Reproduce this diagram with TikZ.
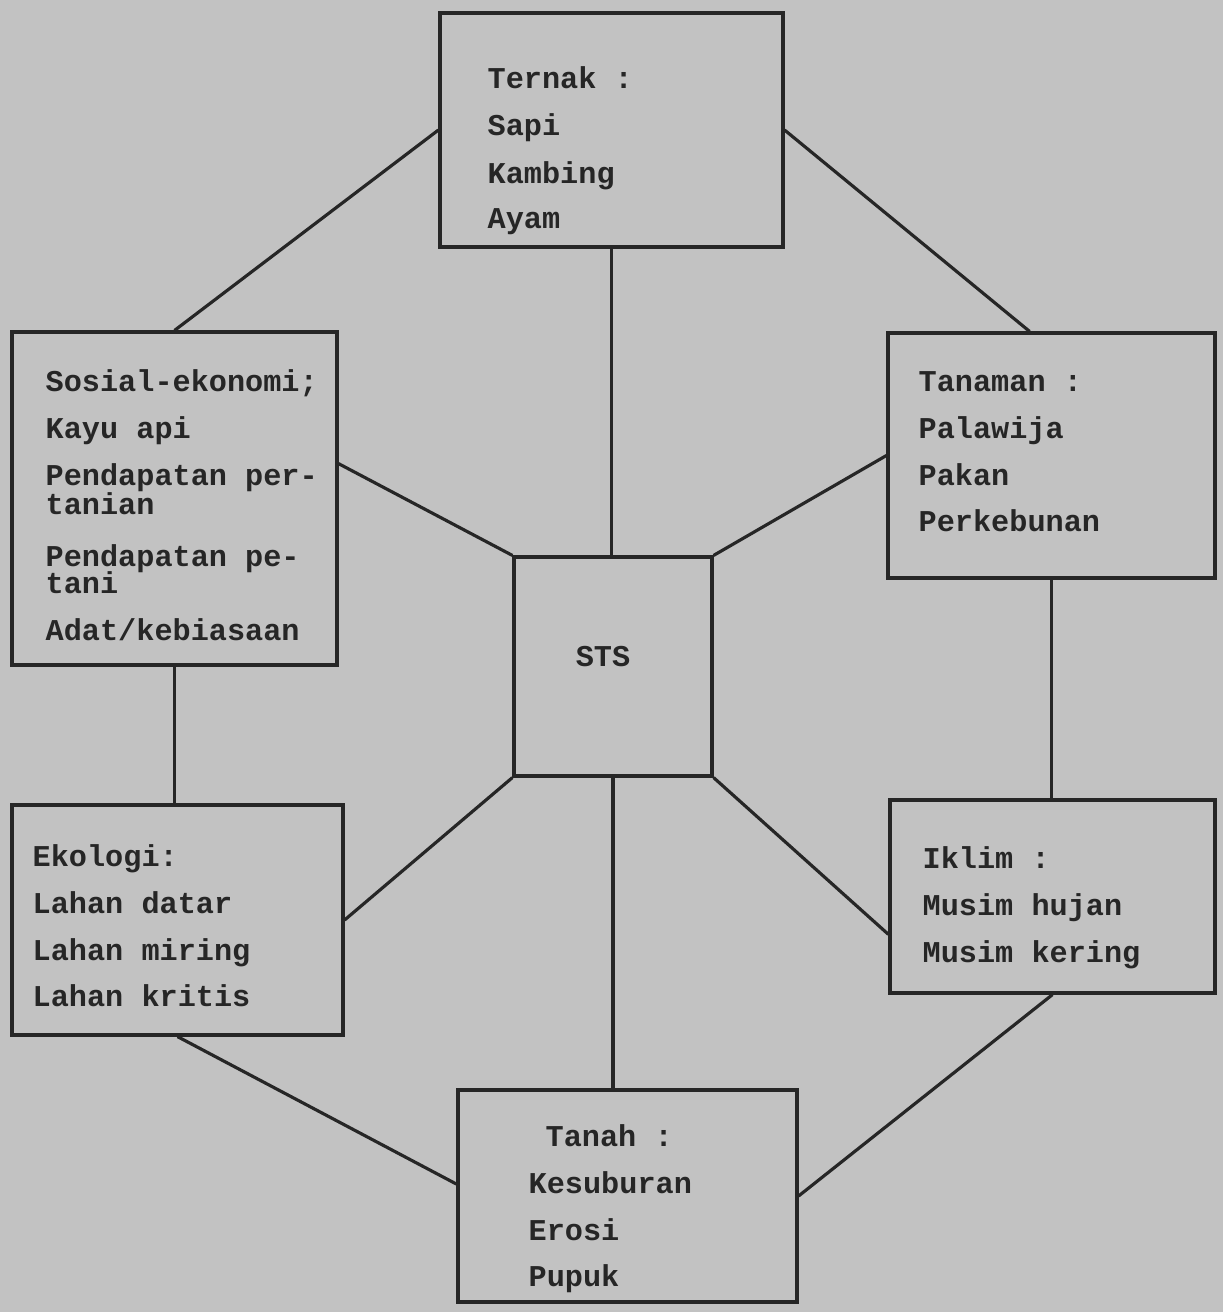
\documentclass[tikz,border=0pt]{standalone}
\usepackage{fontspec}
\setmonofont{Liberation Mono}
\begin{document}
\begin{tikzpicture}[
    kotak/.style={draw=black!85, line width=0.9pt, inner sep=0pt},
    isi/.style={anchor=north west, align=left, inner sep=0pt, text=black!85,
        font=\ttfamily\bfseries\fontsize{8.6}{13.3}\selectfont},
    garis/.style={draw=black!85, line width=0.9pt}]
    % Latar
    \fill[black!24] (0,0) rectangle (12.23,-13.12);
    \useasboundingbox (0,0) rectangle (12.23,-13.12);

    % Kotak Ternak
    \node[kotak, minimum width=3.43cm, minimum height=2.34cm] (ternak) at (6.115,-1.30) {};
    \node[isi] (tternak) at (4.87,-0.66)
        {Ternak :\\ Sapi\\[0.5pt] Kambing\\[-0.5pt] Ayam};

    % Kotak Sosial-ekonomi
    \node[kotak, minimum width=3.25cm, minimum height=3.33cm] (sosial) at (1.745,-4.985) {};
    \node[isi] (tsosial) at (0.45,-3.69)
        {Sosial-ekonomi;\\ Kayu api\\ Pendapatan per-\\[-5pt] tanian\\[1.5pt]
         Pendapatan pe-\\[-5.6pt] tani\\ Adat/kebiasaan};

    % Kotak Tanaman
    \node[kotak, minimum width=3.27cm, minimum height=2.45cm] (tanaman) at (10.515,-4.555) {};
    \node[isi] (ttanaman) at (9.18,-3.71)
        {Tanaman :\\ Palawija\\ Pakan\\ Perkebunan};

    % Kotak STS
    \node[kotak, minimum width=1.98cm, minimum height=2.19cm] (sts) at (6.13,-6.665) {};
    \node[font=\ttfamily\bfseries\fontsize{8.6}{13.3}\selectfont, text=black!85] (tsts) at (6.03,-6.57) {STS};

    % Kotak Ekologi
    \node[kotak, minimum width=3.31cm, minimum height=2.30cm] (ekologi) at (1.775,-9.20) {};
    \node[isi] (tekologi) at (0.32,-8.44)
        {Ekologi:\\ Lahan datar\\ Lahan miring\\ Lahan kritis};

    % Kotak Iklim
    \node[kotak, minimum width=3.25cm, minimum height=1.93cm] (iklim) at (10.525,-8.965) {};
    \node[isi] (tiklim) at (9.22,-8.46)
        {Iklim :\\ Musim hujan\\ Musim kering};

    % Kotak Tanah
    \node[kotak, minimum width=3.39cm, minimum height=2.12cm] (tanah) at (6.275,-11.96) {};
    \node[isi] (ttanah) at (5.28,-11.24)
        {\hspace*{0.17cm}Tanah :\\ Kesuburan\\ Erosi\\ Pupuk};

    % Garis penghubung
    \draw[garis] (ternak.west) -- (sosial.north);
    \draw[garis] (ternak.east) -- (tanaman.100);
    \draw[garis] (ternak.south) -- (ternak.south |- sts.north);
    \draw[garis] (sosial.12) -- (sts.north west);
    \draw[garis] (tanaman.west) -- (sts.north east);
    \draw[garis] (sosial.south) -- (sosial.south |- ekologi.north);
    \draw[garis] (tanaman.south) -- (tanaman.south |- iklim.north);
    \draw[garis] (sts.south west) -- (ekologi.east);
    \draw[garis] (sts.south east) -- (iklim.193);
    \draw[garis] (sts.south) -- (sts.south |- tanah.north);
    \draw[garis] (ekologi.south) -- (tanah.176);
    \draw[garis] (iklim.south) -- (tanah.east);
\end{tikzpicture}
\end{document}
